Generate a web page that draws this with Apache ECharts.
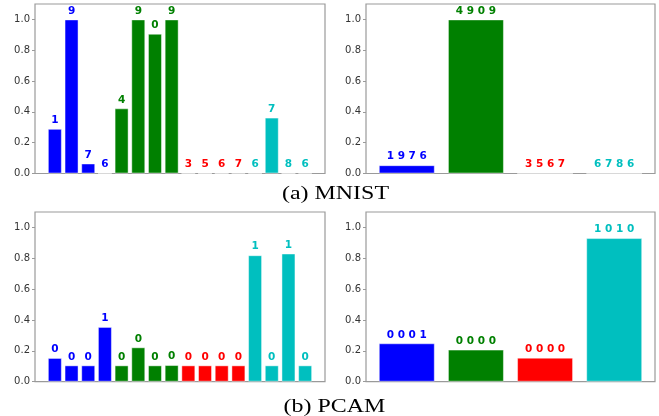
<!DOCTYPE html>
<html>
<head>
<meta charset="utf-8">
<script src="https://cdn.jsdelivr.net/npm/echarts@6/dist/echarts.min.js"></script>
<style>
  html, body { margin: 0; padding: 0; background: #fff; }
  #chart { width: 659px; height: 416px; }
</style>
</head>
<body>
<div id="chart"></div>
<script>
// per-digit bars (16 = 4 groups x 4 digits) and per-group bars
const mnistDigitVals = [0.29, 1.0, 0.065, 0.002, 0.423, 1.0, 0.907, 1.0, 0.002, 0.001, 0.001, 0.003, 0.002, 0.363, 0.001, 0.003]
const mnistDigitLabels = ['1', '9', '7', '6', '4', '9', '0', '9', '3', '5', '6', '7', '6', '7', '8', '6']
const mnistGroupVals = [0.054, 1.0, 0.002, 0.002]
const mnistGroupLabels = ['1 9 7 6', '4 9 0 9', '3 5 6 7', '6 7 8 6']

const pcamDigitVals = [0.154, 0.106, 0.106, 0.355, 0.106, 0.223, 0.106, 0.108, 0.106, 0.106, 0.106, 0.106, 0.82, 0.106, 0.831, 0.106]
const pcamDigitLabels = ['0', '0', '0', '1', '0', '0', '0', '0', '0', '0', '0', '0', '1', '0', '1', '0']
const pcamGroupVals = [0.249, 0.208, 0.156, 0.931]
const pcamGroupLabels = ['0 0 0 1', '0 0 0 0', '0 0 0 0', '1 0 1 0']

const groupColors = ['#0000ff', '#008000', '#ff0000', '#00bfbf']
const yTicks = [0, 0.2, 0.4, 0.6, 0.8, 1.0]

const grids = [
    { left: 35, top: 4, width: 290, height: 169.5 },
    { left: 366, top: 4, width: 289, height: 169.5 },
    { left: 35, top: 212, width: 290, height: 169.7 },
    { left: 366, top: 212, width: 289, height: 169.7 }
]

function makeSeries(idx, vals, labels, perGroup, fontSize, barW) {
    return {
        type: 'bar',
        xAxisIndex: idx,
        yAxisIndex: idx,
        barWidth: barW,
        silent: true,
        data: vals.map((v, i) => {
            const c = groupColors[perGroup ? Math.floor(i / perGroup) : i]
            return {
                value: [i, v],
                itemStyle: { color: c, borderColor: 'rgba(255,255,255,0.45)', borderWidth: 1 },
                label: {
                    show: true,
                    position: 'top',
                    distance: 3,
                    formatter: labels[i],
                    color: c,
                    fontFamily: 'DejaVu Sans',
                    fontWeight: 'bold',
                    fontSize: fontSize
                }
            }
        })
    }
}

const chart = echarts.init(document.getElementById('chart'))
chart.setOption({
    backgroundColor: '#fff',
    animation: false,
    grid: grids.map(g => Object.assign({ show: true, borderColor: '#9a9a9a', borderWidth: 1.2, backgroundColor: '#fff' }, g)),
    xAxis: [0, 1, 2, 3].map(i => ({
        type: 'value',
        gridIndex: i,
        min: i % 2 === 0 ? -1.19 : -0.59,
        max: i % 2 === 0 ? 16.19 : 3.59,
        axisLine: { show: false, onZero: false },
        axisTick: { show: false },
        axisLabel: { show: false },
        splitLine: { show: false }
    })),
    yAxis: [0, 1, 2, 3].map(i => ({
        type: 'value',
        gridIndex: i,
        position: 'left',
        min: 0,
        max: 1.1,
        interval: 0.2,
        axisLine: { show: false, onZero: false },
        axisTick: { show: true, length: 3, lineStyle: { color: '#9a9a9a' } },
        splitLine: { show: false },
        axisLabel: {
            showMaxLabel: false,
            margin: 5,
            color: '#333',
            fontFamily: 'DejaVu Sans',
            fontSize: 10,
            formatter: v => yTicks.some(t => Math.abs(t - v) < 1e-6) ? v.toFixed(1) : ''
        }
    })),
    series: [
        makeSeries(0, mnistDigitVals, mnistDigitLabels, 4, 10.5, 14),
        makeSeries(1, mnistGroupVals, mnistGroupLabels, 0, 10.5, 56),
        makeSeries(2, pcamDigitVals, pcamDigitLabels, 4, 10.5, 14),
        makeSeries(3, pcamGroupVals, pcamGroupLabels, 0, 10.5, 56)
    ],
    graphic: [
        {
            type: 'text', x: 335.5, y: 194.5, scaleX: 1.26,
            style: { text: '(a) MNIST', font: '19px "Liberation Serif"', fill: '#000', textAlign: 'center', textVerticalAlign: 'middle' }
        },
        {
            type: 'text', x: 334.5, y: 407.5, scaleX: 1.26,
            style: { text: '(b) PCAM', font: '19px "Liberation Serif"', fill: '#000', textAlign: 'center', textVerticalAlign: 'middle' }
        }
    ]
})
</script>
</body>
</html>
